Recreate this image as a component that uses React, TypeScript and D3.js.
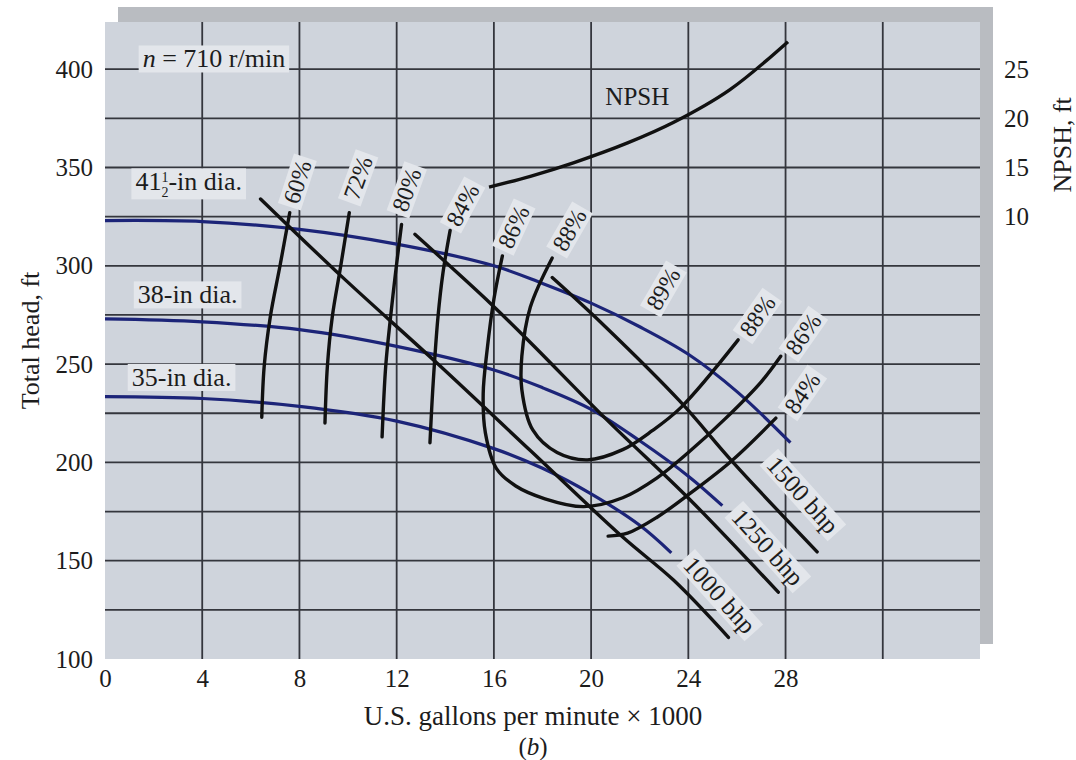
import React, { useEffect, useRef } from "react";
import * as d3 from "d3";

// axis ticks
const headTicks = [100, 150, 200, 250, 300, 350, 400];
const flowTicks = [0, 4, 8, 12, 16, 20, 24, 28];
const npshTicks = [10, 15, 20, 25];
const gridFlow = [4, 8, 12, 16, 20, 24, 28, 32];
const gridHead = [125, 150, 175, 200, 225, 250, 275, 300, 325, 350, 375, 400];

// head-capacity curves: [flow (1000 gal/min), head (ft)]
const dia41 = [[0, 323], [4, 322.5], [8, 318.5], [12, 311], [16, 300], [18, 291], [20, 281], [22, 269], [24, 255], [26, 236], [28.2, 210]];
const dia38 = [[0, 273], [4, 271.5], [8, 267.5], [12, 259], [16, 247], [18, 238], [20, 227], [22, 211], [24, 193], [25.4, 178]];
const dia35 = [[0, 233.5], [4, 232.5], [8, 228.5], [12, 221], [16, 207], [18, 197], [20, 184], [22, 168], [23.3, 154]];

// efficiency curves
const eff60 = [[7.6, 327], [7.2, 300], [6.8, 274], [6.55, 249], [6.45, 223]];
const eff72 = [[10.05, 327], [9.7, 300], [9.35, 274], [9.15, 249], [9.05, 220]];
const eff80 = [[12.2, 321], [11.95, 296], [11.75, 274], [11.55, 249], [11.4, 213]];
const eff84 = [[14.2, 318], [13.9, 296], [13.7, 274], [13.5, 240], [13.37, 210]];
const eff86 = [[16.35, 305], [16.0, 283], [15.72, 257], [15.56, 235], [15.65, 215], [16.1, 197], [16.9, 188], [18.1, 181.5], [19.7, 177.5], [21.3, 182], [22.7, 192], [24.0, 205], [25.5, 222], [27.0, 241], [27.8, 254]];
const eff88 = [[18.4, 304], [17.5, 279], [17.15, 254], [17.15, 237], [17.6, 216.5], [18.6, 205], [19.85, 201.3], [21.3, 206.5], [22.5, 216], [23.7, 228], [26.05, 262.3]];
const eff84r = [[20.7, 162.5], [21.5, 164], [22.7, 172], [24.1, 184.5], [25.8, 201], [27.6, 222.5]];

// brake horsepower lines
const bhp1000 = [[6.4, 334], [9.7, 295], [13.7, 250], [17.5, 206], [21.3, 162], [23.4, 140], [25.65, 111]];
const bhp1250 = [[12.75, 316], [15.85, 281], [17.5, 261], [20.66, 221.5], [24.07, 181], [27.7, 134]];
const bhp1500 = [[18.4, 294], [20.5, 270], [23.66, 231], [25.84, 200], [29.3, 154.5]];

// NPSH (ft) vs flow
const npsh = [[15.8, 13], [17.5, 14.1], [19.3, 15.5], [21.5, 17.5], [23.4, 19.6], [25.7, 22.9], [28.1, 27.8]];

// annotations: text, flow, head, angle
const effLabels = [
	["60%", 7.9, 342.7, -72],
	["72%", 10.4, 344.8, -70],
	["80%", 12.4, 338.7, -70],
	["84%", 14.7, 331, -62],
	["86%", 16.8, 319.8, -65],
	["88%", 19.1, 318.3, -60],
	["89%", 22.96, 288.3, -60],
	["88%", 26.83, 274.6, -55],
	["86%", 28.72, 265.4, -55],
	["84%", 28.68, 235.4, -55],
];
const bhpLabels = [
	["1500 bhp", 28.72, 183.5, 48],
	["1250 bhp", 27.28, 157, 48],
	["1000 bhp", 25.3, 132.6, 48],
];
const diaLabels = [
	["38-in dia.", 1.35, 285.5],
	["35-in dia.", 1.1, 243.5],
];

const FONT = "'Liberation Serif', 'Times New Roman', serif";
const BOX = "#e3e6eb";
const INK = "#1c1c1c";

const App = () => {
	const ref = useRef(null);

	useEffect(() => {
		const width = 1076;
		const height = 760;

		d3.select(ref.current).selectAll("*").remove();
		const svg = d3
			.select(ref.current)
			.append("svg")
			.attr("width", width)
			.attr("height", height)
			.style("position", "absolute")
			.style("left", 0)
			.style("top", 0)
			.style("background", "#fff")
			.style("font-family", FONT);

		const x = d3.scaleLinear().domain([0, 36]).range([105, 980]);
		const y = d3.scaleLinear().domain([100, 424]).range([659, 22]);
		const yN = d3.scaleLinear().domain([10, 25]).range([y(325), y(400)]);

		// shadow + panel
		svg.append("rect").attr("x", x(0) + 13).attr("y", y(424) - 15).attr("width", x(36) - x(0)).attr("height", y(100) - y(424)).attr("fill", "#b9bcc1");
		svg.append("rect").attr("x", x(0)).attr("y", y(424)).attr("width", x(36) - x(0)).attr("height", y(100) - y(424)).attr("fill", "#cfd4dc");

		// grid
		const grid = svg.append("g").attr("stroke", "#34363d").attr("stroke-width", 1.8);
		grid.selectAll(".v").data(gridFlow).join("line").attr("x1", (d) => x(d)).attr("x2", (d) => x(d)).attr("y1", y(424)).attr("y2", y(100));
		grid.selectAll(".h").data(gridHead).join("line").attr("x1", x(0)).attr("x2", x(36)).attr("y1", (d) => y(d)).attr("y2", (d) => y(d));

		const line = d3
			.line()
			.x((d) => x(d[0]))
			.y((d) => y(d[1]))
			.curve(d3.curveCatmullRom.alpha(0.5));

		[dia41, dia38, dia35].forEach((c) => {
			svg.append("path").datum(c).attr("fill", "none").attr("stroke", "#1c2478").attr("stroke-width", 3.2).attr("d", line);
		});

		[eff60, eff72, eff80, eff84, eff86, eff88, eff84r, bhp1000, bhp1250, bhp1500].forEach((c) => {
			svg.append("path").datum(c).attr("fill", "none").attr("stroke", "#111").attr("stroke-width", 3.4).attr("stroke-linecap", "round").attr("d", line);
		});

		const npshLine = d3
			.line()
			.x((d) => x(d[0]))
			.y((d) => yN(d[1]))
			.curve(d3.curveCatmullRom.alpha(0.5));
		svg.append("path").datum(npsh).attr("fill", "none").attr("stroke", "#111").attr("stroke-width", 3.4).attr("d", npshLine);

		// label with light box behind it
		const boxed = (tx, ty, angle, size, anchor, build) => {
			const g = svg.append("g").attr("transform", `translate(${tx},${ty}) rotate(${angle})`);
			const t = g.append("text").attr("text-anchor", anchor).attr("dy", "0.35em").style("font-size", `${size}px`).attr("fill", INK);
			build(t);
			const bb = t.node().getBBox();
			g.insert("rect", "text")
				.attr("x", bb.x - 4)
				.attr("y", bb.y + 1)
				.attr("width", bb.width + 8)
				.attr("height", bb.height - 2)
				.attr("fill", BOX);
		};

		effLabels.forEach(([s, q, h, a]) => boxed(x(q), y(h), a, 24, "middle", (t) => t.text(s)));
		bhpLabels.forEach(([s, q, h, a]) => boxed(x(q), y(h), a, 25, "middle", (t) => t.text(s)));
		diaLabels.forEach(([s, q, h]) => boxed(x(q), y(h), 0, 26, "start", (t) => t.text(s)));

		boxed(x(1.25), y(343), 0, 26, "start", (t) => {
			t.append("tspan").text("41");
			t.append("tspan").attr("dy", -8).style("font-size", "14px").text("1");
			t.append("tspan").attr("dx", -7).attr("dy", 15).style("font-size", "14px").text("2");
			t.append("tspan").attr("dy", -7).text("-in dia.");
		});

		boxed(x(1.55), y(405.5), 0, 26, "start", (t) => {
			t.append("tspan").style("font-style", "italic").text("n");
			t.append("tspan").text(" = 710 r/min");
		});

		svg.append("text").attr("x", x(21.9)).attr("y", yN(22.2)).attr("text-anchor", "middle").attr("dy", "0.35em").style("font-size", "25px").attr("fill", INK).text("NPSH");

		// axes
		const styleAxis = (g) => {
			g.select(".domain").remove();
			g.selectAll("text").style("font-family", FONT).style("font-size", "25px").attr("fill", INK);
		};
		svg.append("g").attr("transform", `translate(${x(0)},0)`).call(d3.axisLeft(y).tickValues(headTicks).tickSize(0).tickPadding(12)).call(styleAxis);
		svg.append("g").attr("transform", `translate(0,${y(100)})`).call(d3.axisBottom(x).tickValues(flowTicks).tickSize(0).tickPadding(10)).call(styleAxis);
		svg.append("g").attr("transform", `translate(${x(36)},0)`).call(d3.axisRight(yN).tickValues(npshTicks).tickSize(0).tickPadding(24)).call(styleAxis);

		svg.append("text").attr("transform", `translate(30,${y(262)}) rotate(-90)`).attr("text-anchor", "middle").attr("dy", "0.35em").style("font-size", "26px").attr("fill", INK).text("Total head, ft");
		svg.append("text").attr("transform", `translate(1062,${yN(17.3)}) rotate(-90)`).attr("text-anchor", "middle").attr("dy", "0.35em").style("font-size", "26px").attr("fill", INK).text("NPSH, ft");

		svg.append("text").attr("x", 533).attr("y", 716).attr("text-anchor", "middle").attr("dy", "0.35em").style("font-size", "27px").attr("fill", INK).text("U.S. gallons per minute × 1000");
		const b = svg.append("text").attr("x", 533).attr("y", 746).attr("text-anchor", "middle").attr("dy", "0.35em").style("font-size", "25px").attr("fill", INK);
		b.append("tspan").text("(");
		b.append("tspan").style("font-style", "italic").text("b");
		b.append("tspan").text(")");
	}, []);

	return <div ref={ref}></div>;
};

export default App;
